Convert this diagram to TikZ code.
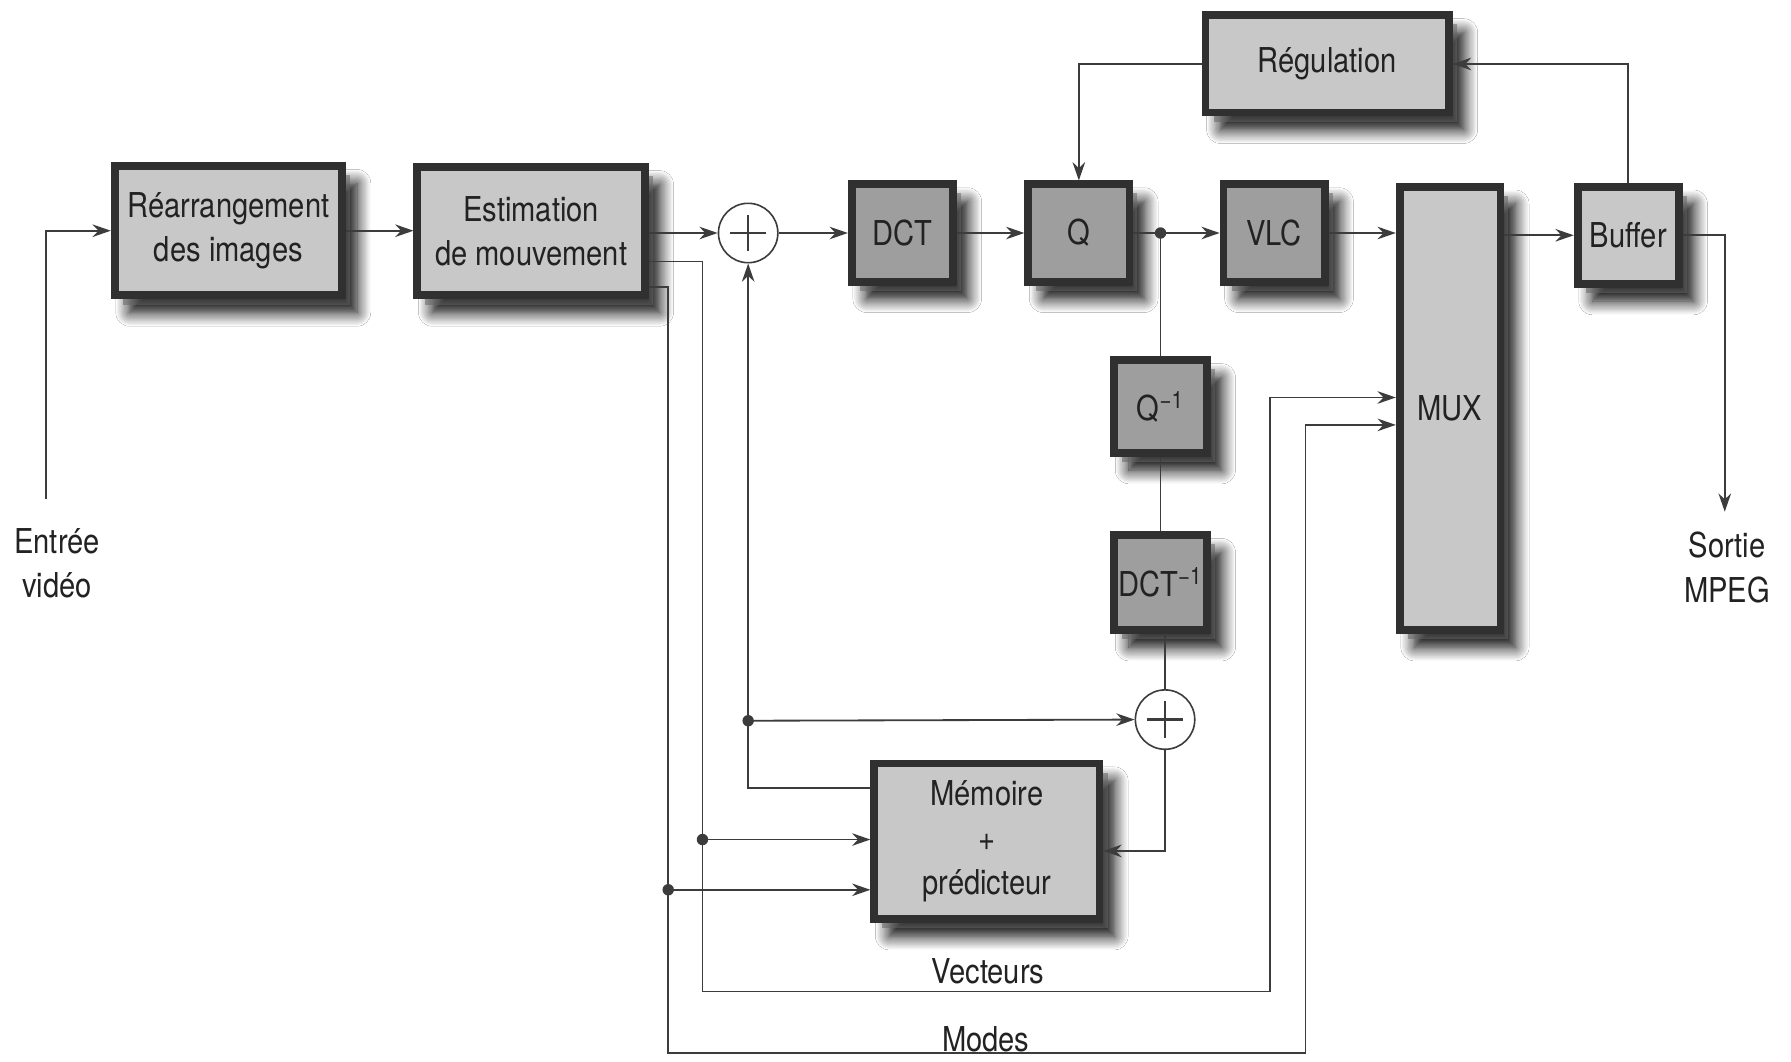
\documentclass[tikz,border=0pt]{standalone}
\usepackage{fontspec}
\setmainfont{TeX Gyre Heros}[FakeStretch=0.85]
\usetikzlibrary{arrows.meta,shadows,shadows.blur,calc}
\definecolor{lfill}{HTML}{C8C8C8}
\definecolor{dfill}{HTML}{9E9E9E}
\definecolor{bord}{HTML}{303030}
\definecolor{ln}{HTML}{3C3C3C}
\definecolor{txt}{HTML}{222222}
\begin{document}
\begin{tikzpicture}[x=0.5pt,y=-0.5pt,
  box/.style={draw=bord, line width=3.4pt, inner sep=0pt, align=center,
    font=\fontsize{15}{19.5}\selectfont, text=txt,
    blur shadow={shadow xshift=6.5pt, shadow yshift=-7.5pt, shadow blur radius=6pt, shadow opacity=100, shadow blur steps=12},
    drop shadow={shadow xshift=3.5pt, shadow yshift=-4pt, fill=black!60, opacity=0.55, draw=none}},
  lbox/.style={box, fill=lfill},
  dbox/.style={box, fill=dfill},
  wire/.style={draw=ln, line width=0.8pt},
  arr/.style={wire, -{Stealth[length=8pt,width=5.5pt]}},
  sumnode/.style={circle, draw=ln, line width=0.7pt, minimum size=26pt, inner sep=0pt, fill=white,
    path picture={\draw[line width=1pt,draw=ln]
      ($(path picture bounding box.center)+(-8pt,0pt)$) -- ($(path picture bounding box.center)+(8pt,0pt)$)
      ($(path picture bounding box.center)+(0pt,-8pt)$) -- ($(path picture bounding box.center)+(0pt,8pt)$);}},
  dot/.style={circle, fill=ln, minimum size=5pt, inner sep=0pt},
  lbl/.style={align=center, font=\fontsize{15}{19.5}\selectfont, text=txt}]
\useasboundingbox[fill=white] (0,0) rectangle (1568,929);

% boxes
\node[lbox, minimum width=99.6pt, minimum height=56.6pt] (rea) at (200,202) {Réarrangement\\des images};
\node[lbox, minimum width=99.6pt, minimum height=56.1pt] (est) at (465,202.5) {Estimation\\de mouvement};
\node[sumnode] (s1) at (655,204) {};
\node[dbox, minimum width=44.3pt, minimum height=42.6pt] (dct) at (790,204) {DCT};
\node[dbox, minimum width=44.3pt, minimum height=42.6pt] (q) at (944.5,204) {Q};
\node[dbox, minimum width=44.3pt, minimum height=42.6pt] (vlc) at (1115.5,204) {VLC};
\node[lbox, minimum width=44.1pt, minimum height=194.1pt] (mux) at (1269.5,357.5) {MUX};
\node[lbox, minimum width=44.3pt, minimum height=42.6pt] (buf) at (1425.5,206) {Buffer};
\node[lbox, minimum width=106.6pt, minimum height=42.6pt] (reg) at (1162,56) {Régulation};
\node[dbox, minimum width=40.6pt, minimum height=40.6pt] (qinv) at (1016,356) {Q\textsuperscript{−1}};
\node[dbox, minimum width=40.6pt, minimum height=41.6pt] (dctinv) at (1016,510) {DCT\textsuperscript{−1}};
\node[sumnode] (s2) at (1020,630) {};
\node[lbox, minimum width=98.6pt, minimum height=68.1pt] (mem) at (864,736.5) {Mémoire\\+\\prédicteur};

% labels
\node[lbl] (lin) at (50,493) {Entrée\\vidéo};
\node[lbl] (lout) at (1512,497) {Sortie\\MPEG};
\node[lbl] (lvec) at (865,850) {Vecteurs};
\node[lbl] (lmod) at (863,910) {Modes};

% helper coordinates
\coordinate (vin) at (40,437);
\coordinate (vout) at (1510,448);
\coordinate (yv) at (0,229);
\coordinate (ym) at (0,251);
\coordinate (ya) at (0,348);
\coordinate (yb) at (0,372);
\coordinate (yp) at (0,690);
\coordinate (yr) at (0,745);
\coordinate (ydv) at (0,735);
\coordinate (ydm) at (0,779);

% dots
\node[dot] (dq) at (1016,204) {};
\node[dot] (dv) at (615,735) {};
\node[dot] (dm) at (585,779) {};
\node[dot] (dp) at (655,631) {};

% main chain
\draw[arr] (vin) |- (rea.west);
\draw[arr] (rea.east) -- (rea.east -| est.west);
\draw[arr] (est.east |- s1.west) -- (s1.west);
\draw[arr] (s1.east) -- (s1.east -| dct.west);
\draw[arr] (dct.east) -- (q.west);
\draw[wire] (q.east) -- (dq.center);
\draw[arr] (dq.center) -- (vlc.west);
\draw[arr] (vlc.east) -- (vlc.east -| mux.west);
\draw[arr] (mux.east |- buf.west) -- (buf.west);
\draw[arr] (buf.east) -| (vout);
\draw[arr] (buf.north) |- (reg.east);
\draw[arr] (reg.west) -| (q.north);

% reconstruction loop
\draw[wire] (dq.center) -- (qinv.north);
\draw[wire] (qinv.south) -- (dctinv.north);
\draw[wire] (s2.north |- dctinv.south) -- (s2.north);
\draw[arr] (s2.south) |- (mem.east |- yr);
\draw[arr] (mem.west |- yp) -| (s1.south);
\draw[arr] (dp.center) -- (s2.west);

% vectors and modes
\draw[arr] (est.east |- yv) -- (615,229) -- (615,868) -- (1112,868) -- (1112,348) -- (mux.west |- ya);
\draw[arr] (est.east |- ym) -- (585,251) -- (585,922) -- (1143,922) -- (1143,372) -- (mux.west |- yb);
\draw[arr] (dv.center) -- (mem.west |- ydv);
\draw[arr] (dm.center) -- (mem.west |- ydm);
\end{tikzpicture}
\end{document}
